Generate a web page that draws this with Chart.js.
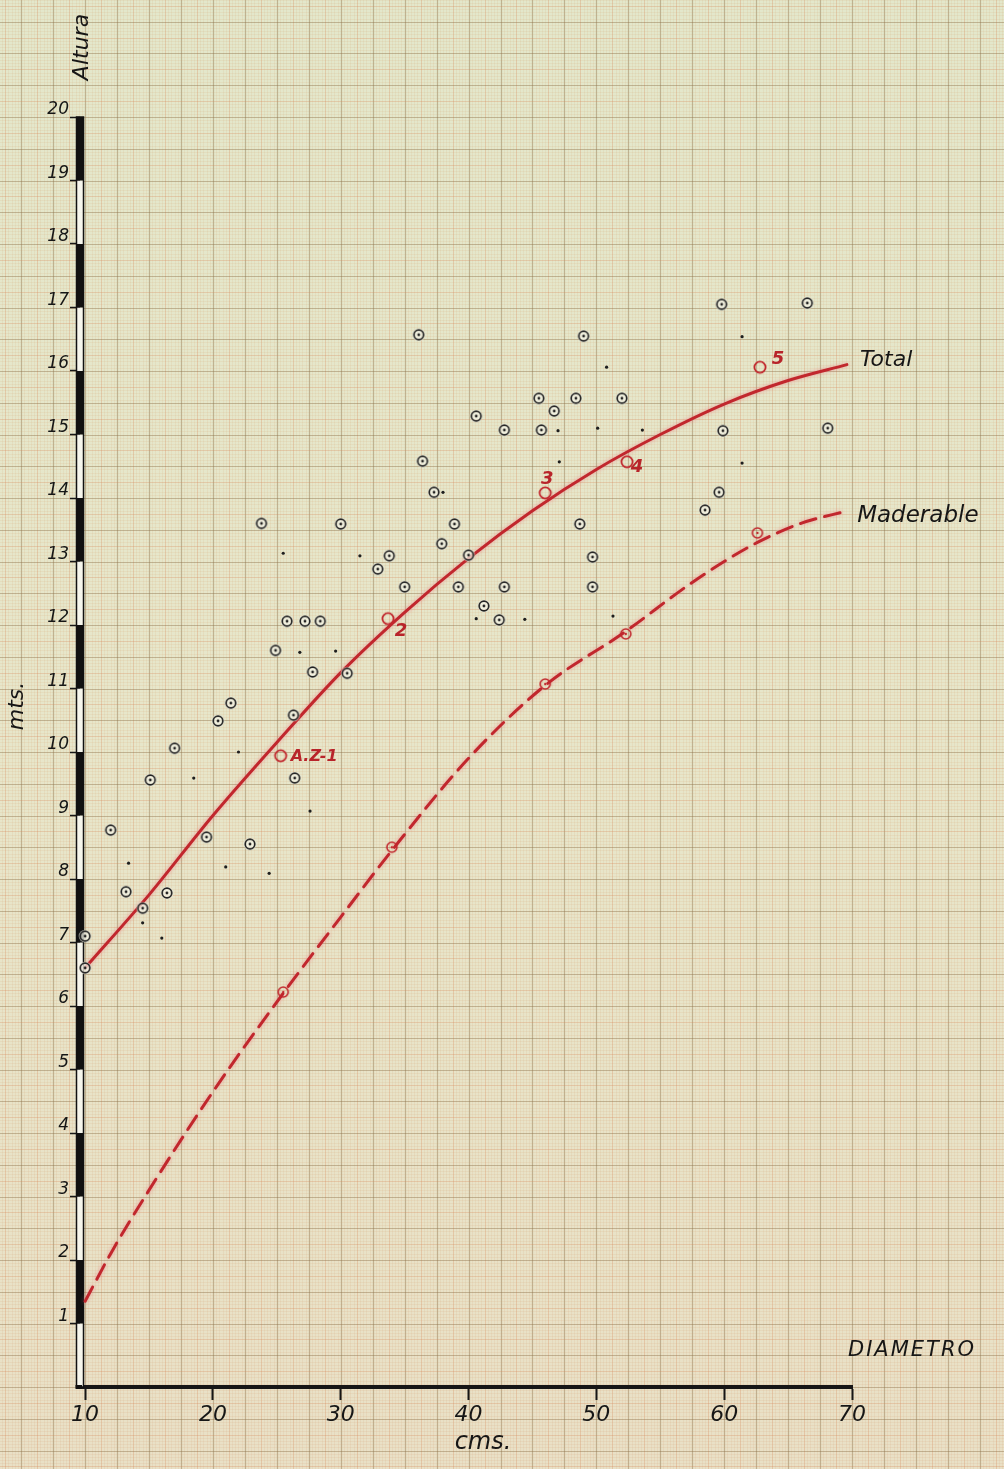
<!DOCTYPE html>
<html>
<head>
<meta charset="utf-8">
<script src="https://cdn.jsdelivr.net/npm/chart.js@4.4.1/dist/chart.umd.min.js"></script>
<style>
  html, body { margin: 0; padding: 0; background: #e5e3c5; }
  canvas { display: block; }
</style>
</head>
<body>
<canvas id="chart" width="1004" height="1469"></canvas>
<script>
// tick labels
const xTicks = [10, 20, 30, 40, 50, 60, 70];
const yTicks = [1, 2, 3, 4, 5, 6, 7, 8, 9, 10, 11, 12, 13, 14, 15, 16, 17, 18, 19, 20];

// curves
const totalX = [10, 15, 20, 25, 30, 35, 40, 45, 50, 55, 60, 65, 69.6];
const totalY = [6.6, 7.75, 9.0, 10.15, 11.25, 12.2, 13.05, 13.8, 14.45, 15.0, 15.48, 15.85, 16.1];
const maderX = [10, 12, 15, 20, 25.5, 30, 34, 40, 46, 52.3, 57, 60, 62.6, 66, 69.7];
const maderY = [1.35, 2.1, 3.1, 4.65, 6.2, 7.4, 8.45, 9.9, 11.05, 11.9, 12.6, 13.0, 13.3, 13.6, 13.8];

// measured trees (circled)
const treeX = [10.0, 10.0, 12.0, 13.2, 14.5, 15.1, 16.4, 17.0, 19.5, 20.4, 21.4, 22.9, 23.8, 24.9, 25.8, 26.3, 26.4,
  27.2, 27.8, 28.4, 30.0, 30.5, 32.9, 33.8, 35.0, 36.1, 36.4, 37.3, 37.9, 38.9, 39.2, 40.0, 40.6, 41.2, 42.4, 42.8,
  42.8, 45.5, 45.7, 46.7, 48.4, 48.7, 49.0, 49.7, 49.7, 52.0, 58.5, 59.6, 59.8, 59.9, 66.5, 68.1];
const treeY = [7.1, 6.6, 8.77, 7.8, 7.54, 9.56, 7.78, 10.06, 8.66, 10.49, 10.77, 8.55, 13.6, 11.6, 12.06, 10.58, 9.59,
  12.06, 11.26, 12.06, 13.59, 11.24, 12.88, 13.09, 12.6, 16.57, 14.58, 14.09, 13.28, 13.59, 12.6, 13.1, 15.29, 12.3, 12.08, 15.07,
  12.6, 15.57, 15.07, 15.37, 15.57, 13.59, 16.55, 13.07, 12.6, 15.57, 13.81, 14.09, 17.05, 15.06, 17.07, 15.1];

// small pencil dots
const dotX = [26.8, 29.6, 18.5, 22.0, 27.6, 13.4, 21.0, 24.4, 14.5, 16.0, 31.5, 47.0, 50.1, 53.6, 47.1, 38.0, 50.8,
  40.6, 44.4, 51.3, 61.4, 61.4, 25.5];
const dotY = [11.57, 11.59, 9.59, 10.0, 9.07, 8.25, 8.19, 8.09, 7.31, 7.07, 13.09, 15.06, 15.1, 15.07, 14.57, 14.09, 16.06,
  12.1, 12.09, 12.14, 16.54, 14.55, 13.13];

// red marked points
const totalPtX = [25.3, 33.7, 46.0, 52.4, 62.8];
const totalPtY = [9.94, 12.1, 14.08, 14.57, 16.06];
const totalPtLabels = ['A.Z-1', '2', '3', '4', '5'];
const maderPtX = [25.5, 34.0, 46.0, 52.3, 62.6];
const maderPtY = [6.22, 8.5, 11.07, 11.86, 13.45];

const RED = '#c1272d';
const INK = '#161616';
const FONT = '"DejaVu Sans", sans-serif';

const zip = (xs, ys) => xs.map((v, i) => ({ x: v, y: ys[i] }));

function ring(r, stroke, lw, dot, halo) {
  const s = 2 * Math.ceil(r + lw + 2);
  const c = document.createElement('canvas');
  c.width = c.height = s;
  const g = c.getContext('2d');
  const m = s / 2;
  if (halo) {
    g.fillStyle = halo;
    g.beginPath(); g.arc(m, m, r + 1.5, 0, Math.PI * 2); g.fill();
  }
  g.strokeStyle = stroke; g.lineWidth = lw;
  g.beginPath(); g.arc(m, m, r, 0, Math.PI * 2); g.stroke();
  if (dot) {
    g.fillStyle = stroke;
    g.beginPath(); g.arc(m, m, dot, 0, Math.PI * 2); g.fill();
  }
  return c;
}

const blackRing = ring(4.8, '#222', 1.7, 1.4, 'rgba(246,246,232,0.75)');
const redRing = ring(5.6, RED, 1.8, 0, null);
const redDotRing = ring(5, RED, 1.6, 1.2, null);

// graph paper behind everything, lined up with the scales
const paper = {
  id: 'paper',
  beforeDraw(chart) {
    const { ctx, width, height } = chart;
    const x = chart.scales.x, y = chart.scales.y;
    ctx.save();
    const g = ctx.createLinearGradient(0, 0, 0, height);
    g.addColorStop(0, '#e3e7cb');
    g.addColorStop(0.5, '#e7e6ca');
    g.addColorStop(1, '#e9e0c6');
    ctx.fillStyle = g;
    ctx.fillRect(0, 0, width, height);

    const styleFor = p => p === 0 ? ['rgba(145,115,75,0.45)', 1.2]
      : p === 5 ? ['rgba(215,135,90,0.3)', 1] : ['rgba(215,155,110,0.12)', 1];

    const xs = 0.25;
    const kx0 = Math.floor(x.getValueForPixel(0) / xs) - 1;
    const kx1 = Math.ceil(x.getValueForPixel(width) / xs) + 1;
    for (const pass of [1, 5, 0]) {
      for (let k = kx0; k <= kx1; k++) {
        const m = ((k % 10) + 10) % 10;
        const p = m === 0 ? 0 : (m === 5 ? 5 : 1);
        if (p !== pass) continue;
        const [c, w] = styleFor(p);
        const px = Math.round(x.getPixelForValue(k * xs)) + 0.5;
        ctx.strokeStyle = c; ctx.lineWidth = w;
        ctx.beginPath(); ctx.moveTo(px, 0); ctx.lineTo(px, height); ctx.stroke();
      }
    }
    const ys = 0.05;
    const ky0 = Math.floor(y.getValueForPixel(height) / ys) - 1;
    const ky1 = Math.ceil(y.getValueForPixel(0) / ys) + 1;
    for (const pass of [1, 5, 0]) {
      for (let k = ky0; k <= ky1; k++) {
        const m = ((k % 10) + 10) % 10;
        const p = m === 0 ? 0 : (m === 5 ? 5 : 1);
        if (p !== pass) continue;
        const [c, w] = styleFor(p);
        const py = Math.round(y.getPixelForValue(k * ys)) + 0.5;
        ctx.strokeStyle = c; ctx.lineWidth = w;
        ctx.beginPath(); ctx.moveTo(0, py); ctx.lineTo(width, py); ctx.stroke();
      }
    }
    ctx.restore();
  },
  // black / white bar along the height axis
  beforeDatasetsDraw(chart) {
    const { ctx, chartArea } = chart;
    const y = chart.scales.y;
    const l = chartArea.left - 3.5;
    const w = 7;
    ctx.save();
    for (let i = 0; i < 20; i++) {
      const t = y.getPixelForValue(i + 1), b = y.getPixelForValue(i);
      ctx.fillStyle = i % 2 === 1 ? '#111' : 'rgba(247,247,238,0.95)';
      ctx.fillRect(l, t, w, b - t);
    }
    ctx.strokeStyle = '#111';
    ctx.lineWidth = 1.5;
    const top = y.getPixelForValue(20), bot = y.getPixelForValue(0);
    ctx.strokeRect(l, top, w, bot - top);
    ctx.lineWidth = 4;
    ctx.beginPath(); ctx.moveTo(l - 1, bot); ctx.lineTo(chartArea.left + 2, bot); ctx.stroke();
    ctx.restore();
  },
  beforeDatasetDraw(chart, args) {
    if (args.meta._dataset.glow) {
      const ctx = chart.ctx;
      ctx.save();
      ctx.shadowColor = 'rgba(240,110,125,0.6)';
      ctx.shadowBlur = 4;
    }
  },
  afterDatasetDraw(chart, args) {
    if (args.meta._dataset.glow) chart.ctx.restore();
  },
  afterDraw(chart) {
    const { ctx, chartArea } = chart;
    const x = chart.scales.x, y = chart.scales.y;
    ctx.save();
    ctx.fillStyle = INK;
    ctx.textBaseline = 'middle';

    // axis words
    ctx.font = 'italic 22px ' + FONT;
    ctx.save();
    ctx.translate(chartArea.left + 2, chartArea.top - 70);
    ctx.rotate(-Math.PI / 2);
    ctx.textAlign = 'center';
    ctx.fillText('Altura', 0, 0);
    ctx.restore();

    ctx.save();
    ctx.translate(17, 706);
    ctx.rotate(-Math.PI / 2);
    ctx.textAlign = 'center';
    ctx.fillText('mts.', 0, 0);
    ctx.restore();

    ctx.textAlign = 'left';
    ctx.font = 'italic 21px ' + FONT;
    ctx.letterSpacing = '2px';
    ctx.fillText('DIAMETRO', chartArea.right - 4, chartArea.bottom - 36);
    ctx.letterSpacing = '0px';
    ctx.textAlign = 'center';
    ctx.font = 'italic 24px ' + FONT;
    ctx.fillText('cms.', 483, 1443);

    // curve names
    ctx.textAlign = 'left';
    ctx.font = 'italic 22px ' + FONT;
    ctx.fillText('Total', x.getPixelForValue(totalX[totalX.length - 1]) + 13,
      y.getPixelForValue(totalY[totalY.length - 1]) - 4);
    ctx.font = 'italic 23px ' + FONT;
    ctx.fillText('Maderable', x.getPixelForValue(maderX[maderX.length - 1]) + 9,
      y.getPixelForValue(maderY[maderY.length - 1]) + 5);

    // red point labels
    const offs = [[10, 1, 'left', 16], [13, 13, 'center', 18], [2, -14, 'center', 18], [10, 6, 'center', 18], [18, -8, 'center', 18]];
    ctx.fillStyle = '#b8242a';
    totalPtLabels.forEach((t, i) => {
      const [dx, dy, al, sz] = offs[i];
      ctx.font = 'bold italic ' + sz + 'px ' + FONT;
      ctx.textAlign = al;
      ctx.fillText(t, x.getPixelForValue(totalPtX[i]) + dx, y.getPixelForValue(totalPtY[i]) + dy);
    });
    ctx.restore();
  }
};

new Chart(document.getElementById('chart'), {
  type: 'scatter',
  data: {
    datasets: [
      { label: 'Total', data: zip(totalX, totalY), showLine: true, glow: true, order: 3,
        borderColor: RED, borderWidth: 3, pointRadius: 0, cubicInterpolationMode: 'monotone', fill: false },
      { label: 'Maderable', data: zip(maderX, maderY), showLine: true, glow: true, order: 3,
        borderColor: RED, borderWidth: 3, borderDash: [16, 9], pointRadius: 0, cubicInterpolationMode: 'monotone', fill: false },
      { label: 'Árboles', data: zip(treeX, treeY), order: 1, pointStyle: blackRing, pointRadius: 6 },
      { label: 'Puntos', data: zip(dotX, dotY), order: 2, pointStyle: 'circle', pointRadius: 1.6,
        backgroundColor: '#1e1e1e', borderWidth: 0 },
      { label: 'Total puntos', data: zip(totalPtX, totalPtY), order: 1, pointStyle: redRing, pointRadius: 7 },
      { label: 'Maderable puntos', data: zip(maderPtX, maderPtY), order: 1, pointStyle: redDotRing, pointRadius: 7 }
    ]
  },
  options: {
    responsive: false,
    animation: false,
    devicePixelRatio: 1,
    layout: { padding: { top: 117, right: 152, left: 0, bottom: 0 } },
    plugins: { legend: { display: false }, tooltip: { enabled: false } },
    elements: { line: { borderCapStyle: 'round' } },
    clip: false,
    scales: {
      x: {
        type: 'linear', min: 9.6, max: 70,
        afterBuildTicks: s => { s.ticks = xTicks.map(v => ({ value: v })); },
        afterFit: s => { s.height = 82; },
        grid: { drawOnChartArea: false, drawTicks: true, tickLength: 13, tickWidth: 2, tickColor: INK },
        border: { display: true, color: INK, width: 4 },
        ticks: { color: INK, padding: 2, maxRotation: 0, autoSkip: false,
          font: { family: FONT, style: 'italic', size: 22 } }
      },
      y: {
        type: 'linear', min: 0, max: 20,
        afterBuildTicks: s => { s.ticks = yTicks.map(v => ({ value: v })); },
        afterFit: s => { s.width = 80; },
        grid: { drawOnChartArea: false, drawTicks: true, tickLength: 10, tickWidth: 1.5, tickColor: INK },
        border: { display: false },
        ticks: { color: INK, padding: 1, labelOffset: -7, autoSkip: false,
          font: { family: FONT, style: 'italic', size: 17 } }
      }
    }
  },
  plugins: [paper]
});
</script>
</body>
</html>
